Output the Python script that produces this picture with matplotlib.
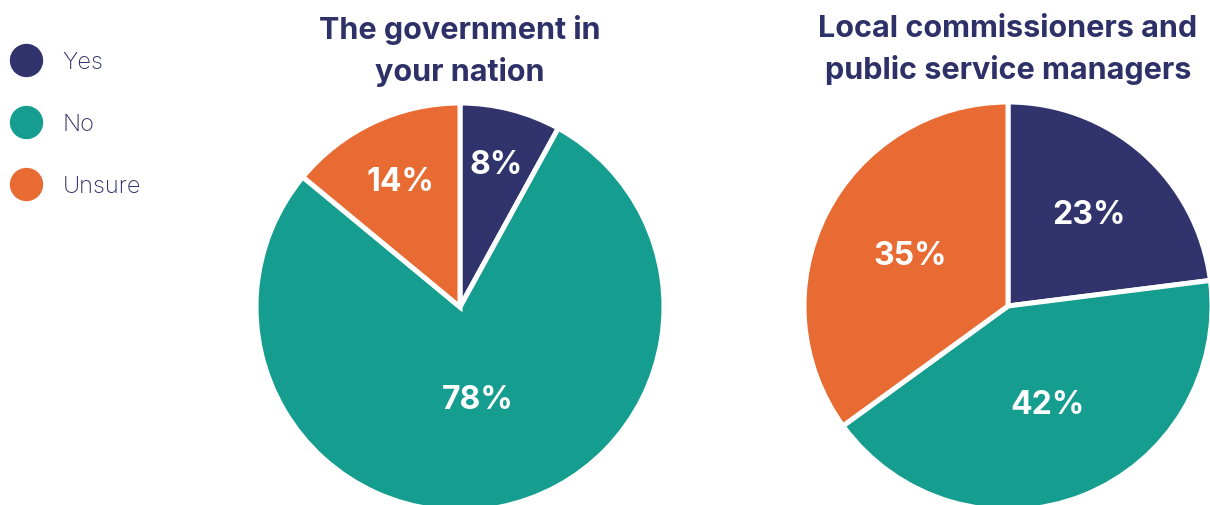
import numpy as np
import matplotlib
matplotlib.use("Agg")
import matplotlib.pyplot as plt
from matplotlib.lines import Line2D

categories = ["Yes", "No", "Unsure"]
titles = ["The government in\nyour nation", "Local commissioners and\npublic service managers"]
gov_vals = [8, 78, 14]
local_vals = [23, 42, 35]
# how far out (fraction of radius) each percent label sits
gov_label_r = [0.72, 0.46, 0.68]
local_label_r = [0.60, 0.52, 0.54]

NAVY, TEAL, ORANGE = "#31336c", "#159d8f", "#e86b33"
TITLE = "#2e3168"
colors = [NAVY, TEAL, ORANGE]

W, H = 1210, 506
fig = plt.figure(figsize=(W / 100, H / 100), dpi=100)
plt.rcParams["font.family"] = ["Inter", "DejaVu Sans"]

R = 204  # pie radius, px
PAD = 1.04


def pie_at(cx, cy, vals, label_r, title):
    s = R * PAD
    ax = fig.add_axes([(cx - s) / W, (H - cy - s) / H, 2 * s / W, 2 * s / H])
    wedges, _ = ax.pie(vals, colors=colors, startangle=90, counterclock=False,
                       wedgeprops=dict(edgecolor="white", linewidth=3.6))
    for w, v, d in zip(wedges, vals, label_r):
        ang = np.deg2rad((w.theta1 + w.theta2) / 2)
        ax.text(d * np.cos(ang), d * np.sin(ang), f"{v}%", ha="center", va="center",
                color="white", fontsize=23, fontweight="bold")
    ax.set_xlim(-PAD, PAD); ax.set_ylim(-PAD, PAD)
    ax.set_aspect("auto"); ax.axis("off")
    fig.text(cx / W, 1 - 15 / H, title, ha="center", va="top", color=TITLE,
             fontsize=22, fontweight="bold", linespacing=1.5)


pie_at(460, 308, gov_vals, gov_label_r, titles[0])
pie_at(1008, 307, local_vals, local_label_r, titles[1])

handles = [Line2D([], [], marker="o", linestyle="", markersize=23, color=c) for c in colors]
fig.legend(handles, categories, loc="upper left", bbox_to_anchor=(-0.002, 1 - 38 / H),
           frameon=False, labelcolor=TITLE, labelspacing=1.7,
           handletextpad=0.95, borderaxespad=0.2, handlelength=1.2,
           prop=dict(family="Inter", weight="light", size=17))

plt.savefig("out.png", dpi=100)
